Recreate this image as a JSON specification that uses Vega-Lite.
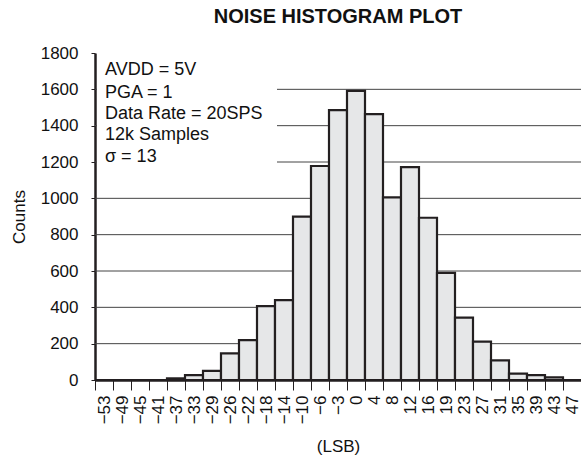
{
  "$schema": "https://vega.github.io/schema/vega-lite/v6.json",
  "autosize": {"type": "none"},
  "padding": {"left": 95, "top": 53, "right": 0, "bottom": 78},
  "width": 486,
  "height": 327,
  "background": "white",
  "config": {
    "font": "Liberation Sans",
    "view": {"stroke": null},
    "axis": {"labelColor": "#111", "titleColor": "#111", "labelFont": "Liberation Sans", "titleFont": "Liberation Sans", "titleFontWeight": "normal"},
    "axisY": {
      "values": [0, 200, 400, 600, 800, 1000, 1200, 1400, 1600, 1800],
      "format": "d", "labelOverlap": false, "labelBound": false, "labelFlush": false,
      "labelFontSize": 17, "labelPadding": 13, "tickSize": 4, "tickColor": "#231f20",
      "titleFontSize": 17, "titlePadding": 12, "domain": true,
      "domainColor": "#231f20", "domainWidth": 2.5, "zindex": 1,
      "grid": false
    }
  },
  "title": {"text": "NOISE HISTOGRAM PLOT", "fontSize": 20, "fontWeight": "bold", "color": "#111", "anchor": "middle", "offset": 17, "font": "Liberation Sans"},
  "datasets": {
    "hist": [
      {"lsb": -53, "count": 0}, {"lsb": -49, "count": 0}, {"lsb": -45, "count": 0}, {"lsb": -41, "count": 0},
      {"lsb": -37, "count": 9}, {"lsb": -33, "count": 27}, {"lsb": -29, "count": 50}, {"lsb": -26, "count": 147},
      {"lsb": -22, "count": 220}, {"lsb": -18, "count": 407}, {"lsb": -14, "count": 440}, {"lsb": -10, "count": 899},
      {"lsb": -6, "count": 1178}, {"lsb": -3, "count": 1486}, {"lsb": 0, "count": 1592}, {"lsb": 4, "count": 1464},
      {"lsb": 8, "count": 1005}, {"lsb": 12, "count": 1172}, {"lsb": 16, "count": 893}, {"lsb": 19, "count": 590},
      {"lsb": 23, "count": 343}, {"lsb": 27, "count": 211}, {"lsb": 31, "count": 108}, {"lsb": 35, "count": 35},
      {"lsb": 39, "count": 27}, {"lsb": 43, "count": 15}, {"lsb": 47, "count": 0}
    ],
    "grid": [
      {"g": 200}, {"g": 400}, {"g": 600}, {"g": 800}, {"g": 1000}, {"g": 1200}, {"g": 1400}, {"g": 1600}
    ],
    "box": [
      {"lsb": -53, "lo": 1050, "hi": 1790}, {"lsb": -49, "lo": 1050, "hi": 1790}, {"lsb": -45, "lo": 1050, "hi": 1790},
      {"lsb": -41, "lo": 1050, "hi": 1790}, {"lsb": -37, "lo": 1050, "hi": 1790}, {"lsb": -33, "lo": 1050, "hi": 1790},
      {"lsb": -29, "lo": 1050, "hi": 1790}, {"lsb": -26, "lo": 1050, "hi": 1790}, {"lsb": -22, "lo": 1050, "hi": 1790},
      {"lsb": -18, "lo": 1050, "hi": 1790}
    ],
    "notes": [
      {"lsb": -53, "y": 1706, "text": "AVDD = 5V"},
      {"lsb": -53, "y": 1582, "text": "PGA = 1"},
      {"lsb": -53, "y": 1466, "text": "Data Rate = 20SPS"},
      {"lsb": -53, "y": 1346, "text": "12k Samples"},
      {"lsb": -53, "y": 1226, "text": "σ = 13"}
    ]
  },
  "encoding": {
    "x": {
      "field": "lsb", "type": "ordinal",
      "scale": {"paddingInner": 0, "paddingOuter": 0},
      "axis": {
        "title": "(LSB)", "titleFontSize": 17, "titlePadding": 15,
        "labelAngle": -90, "labelFontSize": 17, "labelPadding": 5,
        "labelExpr": "replace(datum.label, '-', '−')",
        "tickBand": "extent", "tickSize": 10, "tickColor": "#231f20", "tickWidth": 1,
        "domainColor": "#231f20", "domainWidth": 2.5, "grid": false, "zindex": 1
      }
    }
  },
  "layer": [
    {
      "data": {"name": "grid"},
      "mark": {"type": "rule", "color": "#444", "strokeWidth": 1},
      "encoding": {
        "x": null,
        "y": {"field": "g", "type": "quantitative", "title": "Counts", "scale": {"domain": [0, 1800], "nice": false}}
      }
    },
    {
      "data": {"name": "box"},
      "mark": {"type": "bar", "fill": "white", "stroke": null, "xOffset": 2},
      "encoding": {
        "y": {"field": "lo", "type": "quantitative", "title": "Counts"},
        "y2": {"field": "hi"}
      }
    },
    {
      "data": {"name": "hist"},
      "mark": {"type": "bar", "fill": "#e6e7e8", "stroke": "#231f20", "strokeWidth": 2.2},
      "encoding": {
        "y": {"field": "count", "type": "quantitative", "title": "Counts"}
      }
    },
    {
      "data": {"name": "notes"},
      "mark": {"type": "text", "align": "left", "baseline": "middle", "fontSize": 18, "color": "#111", "dx": 1, "font": "Liberation Sans"},
      "encoding": {
        "y": {"field": "y", "type": "quantitative", "title": "Counts"},
        "text": {"field": "text"}
      }
    },
    {
      "mark": {"type": "rule", "color": "#231f20", "strokeWidth": 2.5},
      "encoding": {"x": null, "y": {"datum": 1800, "type": "quantitative"}}
    }
  ]
}
